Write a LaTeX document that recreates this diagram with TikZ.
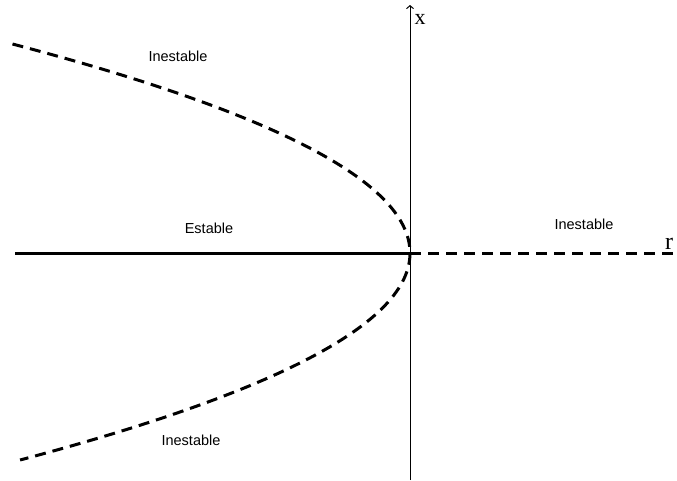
\documentclass[tikz,border=0pt]{standalone}
\usepackage{fontspec}
\setmainfont{Liberation Serif}
\newfontfamily\lblfont{Liberation Sans}
\usetikzlibrary{arrows.meta}
\tikzset{
  branch/.style={line width=3pt,dash pattern=on 11pt off 7pt},
  stablebranch/.style={line width=3pt},
  axisline/.style={line width=1pt},
  regionlabel/.style={font=\lblfont\fontsize{14.5}{16}\selectfont,inner sep=0pt},
  axislabel/.style={inner sep=0pt,anchor=base}
}
\begin{document}
\begin{tikzpicture}[x=1pt,y=-1pt]
\useasboundingbox (0,0) rectangle (677,480);
\coordinate (O) at (410,253);
\coordinate (L) at (15,253);
\coordinate (R) at (677,253);
\coordinate (B) at (410,480);
\coordinate (T) at (410,5);
% axes
\draw[stablebranch] (L) -- (O);
\draw[branch] (O) -- (R);
\draw[axisline,-{Straight Barb[length=3pt,width=7pt]}] (B) -- (T);
% parabola branches
\draw[branch] plot[domain=-2.09:2.07,samples=120,smooth] ({410-91*\x*\x},{253+100*\x});
% labels
\node[regionlabel] (inTop) at (178,56) {Inestable};
\node[regionlabel] (est) at (209,228) {Estable};
\node[regionlabel] (inRight) at (584,224) {Inestable};
\node[regionlabel] (inBot) at (191,440) {Inestable};
\node[axislabel,font=\fontsize{22}{24}\selectfont] (xl) at (420,24) {x};
\node[axislabel,font=\fontsize{24}{26}\selectfont] (rl) at (669,249) {r};
\end{tikzpicture}
\end{document}
